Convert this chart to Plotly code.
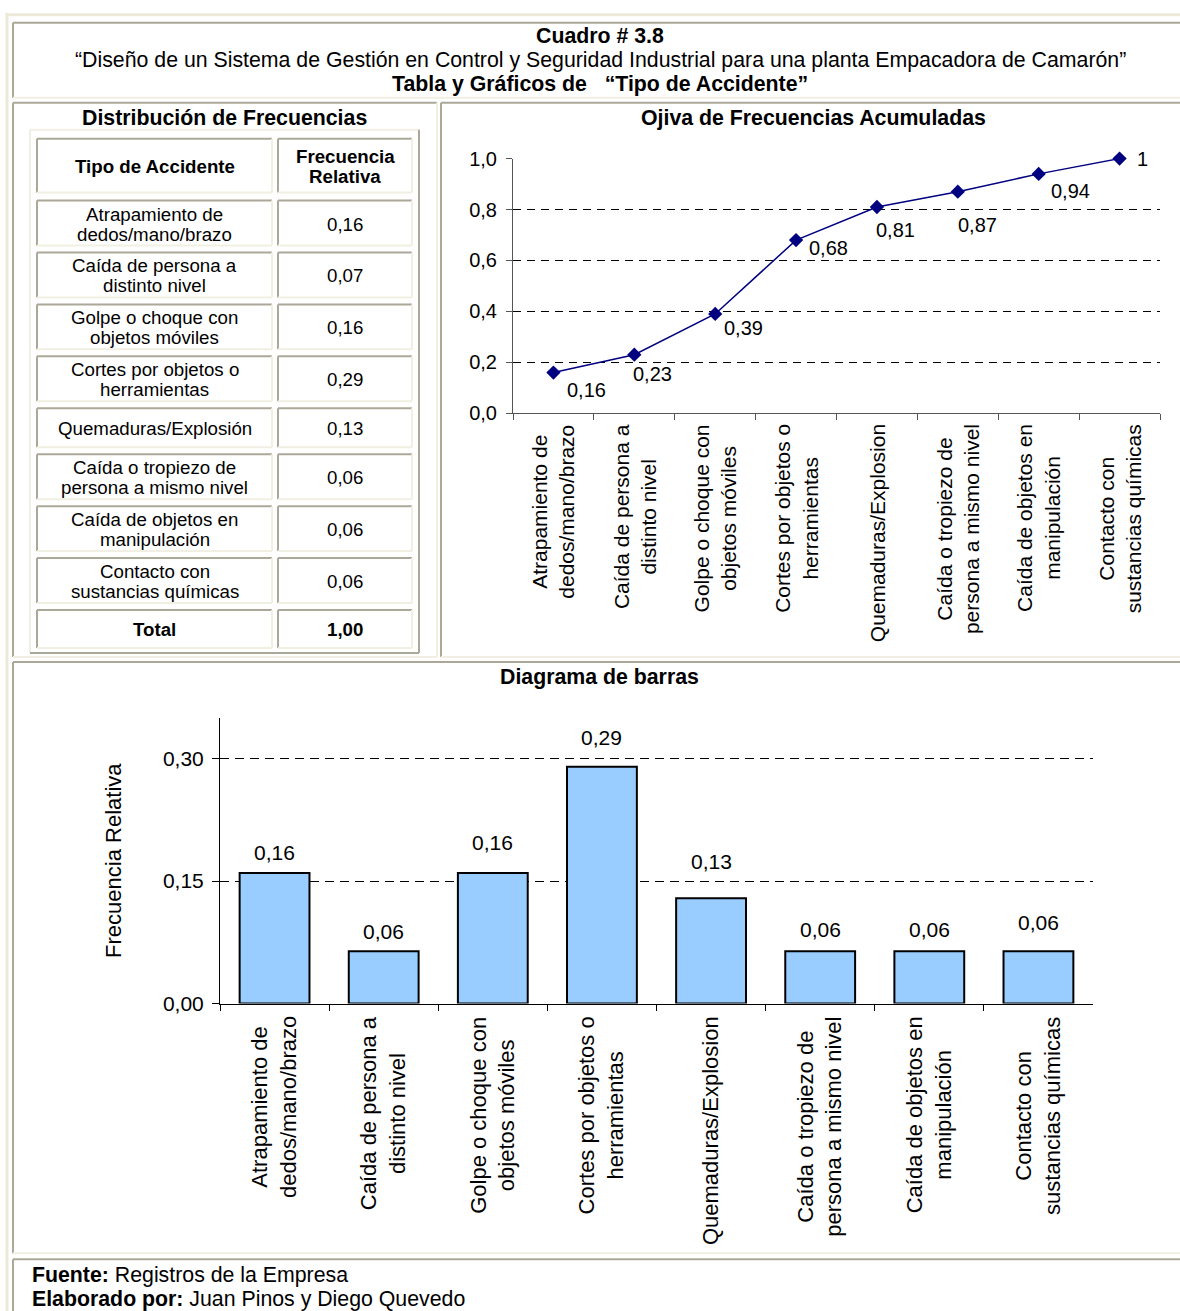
import plotly.graph_objects as go

W, H = 1180, 1311
# the captured page is mapped vertically as y_out = 0.9845*y + 9.2 ; compensate
V_SCALE, V_OFF = 0.9845, 9.2

# ---------------- data ----------------
categories = [
    "Atrapamiento de<br>dedos/mano/brazo",
    "Caída de persona a<br>distinto nivel",
    "Golpe o choque con<br>objetos móviles",
    "Cortes por objetos o<br>herramientas",
    "Quemaduras/Explosion",
    "Caída o tropiezo de<br>persona a mismo nivel",
    "Caída de objetos en<br>manipulación",
    "Contacto con<br>sustancias químicas",
]
table_labels = [
    "Atrapamiento de<br>dedos/mano/brazo",
    "Caída de persona a<br>distinto nivel",
    "Golpe o choque con<br>objetos móviles",
    "Cortes por objetos o<br>herramientas",
    "Quemaduras/Explosión",
    "Caída o tropiezo de<br>persona a mismo nivel",
    "Caída de objetos en<br>manipulación",
    "Contacto con<br>sustancias químicas",
]
relative_freq = [0.16, 0.07, 0.16, 0.29, 0.13, 0.06, 0.06, 0.06]
total_freq = 1.00
cumulative_freq = [0.16, 0.23, 0.39, 0.68, 0.81, 0.87, 0.94, 1.0]
cumulative_labels = ["0,16", "0,23", "0,39", "0,68", "0,81", "0,87", "0,94", "1"]
bar_values = [0.16, 0.064, 0.16, 0.29, 0.129, 0.064, 0.064, 0.064]
bar_labels = ["0,16", "0,06", "0,16", "0,29", "0,13", "0,06", "0,06", "0,06"]
ojiva_tickvals = [0, 0.2, 0.4, 0.6, 0.8, 1.0]
ojiva_ticktext = ["0,0", "0,2", "0,4", "0,6", "0,8", "1,0"]
bar_tickvals = [0, 0.15, 0.30]
bar_ticktext = ["0,00", "0,15", "0,30"]

# ---------------- styling helpers ----------------
FONT = "Arial, 'Liberation Sans', sans-serif"
DARK = "#ACA899"
LIGHT = "#F1EFE2"
BEIGE = "#ECE9D8"
TITLE_SIZE = 21.3


def X(px):
    return px / W


def Y(py):
    return 1 - ((py - V_OFF) / V_SCALE) / H


shapes = []


def hline(x0, x1, y, color, w=2):
    shapes.append(dict(type="line", xref="paper", yref="paper", x0=X(x0), x1=X(x1),
                       y0=Y(y), y1=Y(y), line=dict(color=color, width=w)))


def vline(x, y0, y1, color, w=2):
    shapes.append(dict(type="line", xref="paper", yref="paper", x0=X(x), x1=X(x),
                       y0=Y(y0), y1=Y(y1), line=dict(color=color, width=w)))


def box(x0, y0, x1, y1, inset=True, w=2):
    tl, br = (DARK, LIGHT) if inset else (LIGHT, DARK)
    hline(x0, x1, y0, tl, w)
    vline(x0, y0, y1, tl, w)
    hline(x0, x1, y1, br, w)
    vline(x1, y0, y1, br, w)


annotations = []


def text(x, y, s, size, xanchor="center", yanchor="middle", **kw):
    annotations.append(dict(xref="paper", yref="paper", x=X(x), y=Y(y), text=s,
                            showarrow=False, xanchor=xanchor, yanchor=yanchor,
                            font=dict(family=FONT, size=size, color="black"), **kw))


# ---------------- page frame ----------------
hline(6, 1182, 13, BEIGE, 3)
vline(7, 11, 1330, BEIGE, 3)
box(13, 21, 1184, 96)          # title cell
box(13, 101, 437, 656)         # table cell
box(441, 101, 1184, 656)       # ojiva cell
box(13, 661, 1184, 1253)       # bar chart cell
box(13, 1259, 1184, 1340)      # footer cell

# ---------------- headings ----------------
text(600, 34, "<b>Cuadro # 3.8</b>", TITLE_SIZE)
text(600, 58, "“Diseño de un Sistema de Gestión en Control y Seguridad Industrial para una planta Empacadora de Camarón”", TITLE_SIZE)
text(600, 82, "<b>Tabla y Gráficos de\u00a0\u00a0\u00a0“Tipo de Accidente”</b>", TITLE_SIZE)
text(224, 116, "<b>Distribución de Frecuencias</b>", TITLE_SIZE)
text(813, 116, "<b>Ojiva de Frecuencias Acumuladas</b>", TITLE_SIZE)
text(599, 676, "<b>Diagrama de barras</b>", TITLE_SIZE)
text(30, 1275, "<b>Fuente:</b> Registros de la Empresa", TITLE_SIZE, xanchor="left")
text(30, 1299, "<b>Elaborado por:</b> Juan Pinos y Diego Quevedo", TITLE_SIZE, xanchor="left")

# ---------------- frequency table ----------------
box(30, 128, 419, 652, inset=False)
col_x = [(37, 272), (278, 412)]
row_y = [(137, 191), (199, 244), (251, 296), (303, 348), (355, 400), (407, 446),
         (453, 498), (505, 550), (557, 602), (609, 647)]
LINE_GAP = 20


def cell_text(xc, yc, s, size, bold=False):
    lines = s.split("<br>")
    n = len(lines)
    for i, ln in enumerate(lines):
        yy = yc + (i - (n - 1) / 2) * LINE_GAP
        text(xc, yy, f"<b>{ln}</b>" if bold else ln, size)


rows = [("Tipo de Accidente", "Frecuencia<br>Relativa", True)]
rows += [(lab, f"{v:.2f}".replace(".", ","), False) for lab, v in zip(table_labels, relative_freq)]
rows += [("Total", f"{total_freq:.2f}".replace(".", ","), True)]
for (y0, y1), (c1, c2, bold) in zip(row_y, rows):
    for (x0, x1), s in zip(col_x, (c1, c2)):
        box(x0, y0, x1, y1, inset=True)
        cell_text((x0 + x1) / 2, (y0 + y1) / 2 + 1, s, 18.7, bold)

# ---------------- figure ----------------
fig = go.Figure()

fig.add_trace(go.Scatter(
    x=categories, y=cumulative_freq, xaxis="x", yaxis="y",
    mode="lines+markers", cliponaxis=False,
    line=dict(color="#000080", width=1.5),
    marker=dict(symbol="diamond", size=11, color="#000080"),
    hoverinfo="skip",
))

fig.add_trace(go.Bar(
    x=categories, y=bar_values, xaxis="x2", yaxis="y2", width=0.64,
    marker=dict(color="#99CCFF", line=dict(color="black", width=2)),
    hoverinfo="skip",
))

# ojiva data labels (offsets in px, right / down)
ojiva_offsets = [(33, 17), (18, 19), (28, 14), (32, 8), (19, 23), (20, 33), (32, 17), (23, 0)]
for c, v, lab, (dx, dy) in zip(categories, cumulative_freq, cumulative_labels, ojiva_offsets):
    annotations.append(dict(xref="x", yref="y", x=c, y=v, text=lab, showarrow=False,
                            xshift=dx, yshift=-dy,
                            font=dict(family=FONT, size=20, color="black")))

# bar data labels (label centre above bar top, px)
bar_offsets = [20, 20, 30, 29, 37, 22, 22, 29]
for c, v, lab, dy in zip(categories, bar_values, bar_labels, bar_offsets):
    annotations.append(dict(xref="x2", yref="y2", x=c, y=v, text=lab, showarrow=False,
                            yshift=dy, yanchor="middle",
                            font=dict(family=FONT, size=21, color="black")))

# rotated category labels
for c in categories:
    annotations.append(dict(xref="x", yref="paper", x=c, y=Y(421), text=c, showarrow=False,
                            textangle=-90, xanchor="center", yanchor="top", align="center",
                            font=dict(family=FONT, size=21, color="black")))
    annotations.append(dict(xref="x2", yref="paper", x=c, y=Y(1014), text=c, showarrow=False,
                            textangle=-90, xanchor="center", yanchor="top", align="center",
                            font=dict(family=FONT, size=22, color="black")))

common_x = dict(type="category", range=[-0.5, 7.5], showticklabels=False, showgrid=False,
                zeroline=False, showline=True, ticks="outside", tickson="boundaries",
                ticklen=6, fixedrange=True)

fig.update_layout(
    width=W, height=H,
    margin=dict(l=0, r=0, t=0, b=0),
    paper_bgcolor="white", plot_bgcolor="white",
    showlegend=False,
    font=dict(family=FONT, color="black"),
    xaxis=dict(domain=[X(513), X(1160)], anchor="y", linecolor="#555555", tickcolor="#555555",
               **common_x),
    yaxis=dict(domain=[Y(412), Y(157)], anchor="x", range=[0, 1.0],
               tickvals=ojiva_tickvals, ticktext=ojiva_ticktext,
               tickfont=dict(size=20), ticks="outside", ticklen=6, tickcolor="#555555",
               showline=True, linecolor="#555555", zeroline=False,
               showgrid=True, gridcolor="black", gridwidth=1, griddash="8px,6px",
               ticklabelstandoff=5, fixedrange=True),
    xaxis2=dict(domain=[X(220), X(1093)], anchor="y2", linecolor="black", tickcolor="black",
                **common_x),
    yaxis2=dict(domain=[Y(1003), Y(717)], anchor="x2", range=[0, 0.35],
                tickvals=bar_tickvals, ticktext=bar_ticktext,
                tickfont=dict(size=21), ticks="outside", ticklen=7, tickcolor="black",
                showline=True, linecolor="black", zeroline=False,
                showgrid=True, gridcolor="black", gridwidth=1, griddash="9px,6px",
                ticklabelstandoff=4, fixedrange=True,
                title=dict(text="Frecuencia Relativa", font=dict(size=22), standoff=35)),
    shapes=shapes,
    annotations=annotations,
)

fig.write_html("out.html", config={"displayModeBar": False},
               post_script="document.body.style.margin='0';")
